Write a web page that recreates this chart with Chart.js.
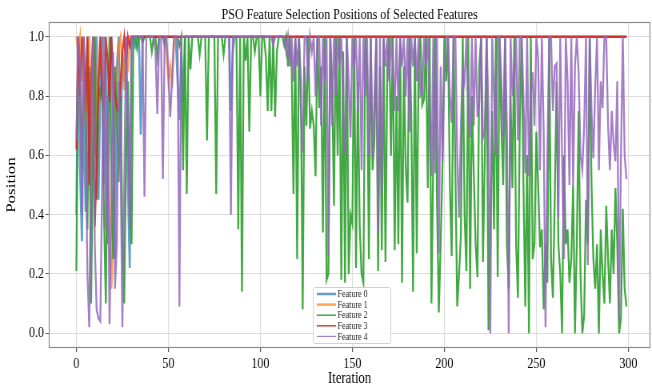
<!DOCTYPE html>
<html>
<head>
<meta charset="utf-8">
<script src="https://cdn.jsdelivr.net/npm/chart.js@4.4.1/dist/chart.umd.min.js"></script>
<style>
    html, body { margin: 0; padding: 0; background: #fff; overflow: hidden; }
</style>
</head>
<body>
<canvas id="PositionChart" width="815" height="388" style="display: block; width: 652px; height: 388px;"></canvas>
<script>
var chartTitle = 'PSO Feature Selection Positions of Selected Features';
var featureNames = ['Feature 0', 'Feature 1', 'Feature 2', 'Feature 3', 'Feature 4'];
var xTicks = [0, 50, 100, 150, 200, 250, 300];
var yTicks = [0, 0.2, 0.4, 0.6, 0.8, 1.0];

var feature0 = [
    0.4, 1, 0.55, 0.31, 0.8, 0.41, 1, 0.7, 0.35, 0.9,
    0.6, 1, 0.45, 0.8, 1, 0.5, 0.95, 0.3, 0.85, 1,
    0.65, 0.25, 0.9, 1, 0.6, 0.95, 0.85, 1, 0.5, 0.22,
    1, 1, 0.97, 1, 1, 0.67, 1, 1, 1, 1,
    1, 1, 1, 1, 1, 1, 1, 1, 1, 1,
    1, 1, 1, 1, 1, 0.85, 0.72, 0.95, 0.78, 1,
    1, 1, 1, 1, 1, 1, 1, 1, 1, 1,
    1, 1, 1, 1, 1, 1, 1, 1, 1, 1,
    1, 1, 1, 1, 0.75, 0.95, 1, 1, 1, 1,
    1, 1, 1, 1, 1, 1, 1, 1, 1, 1,
    1, 1, 1, 1, 1, 1, 1, 1, 1, 1,
    1, 1, 1, 1, 1, 1, 1, 1, 1, 1,
    1, 1, 1, 1, 1, 1, 1, 1, 1, 1,
    1, 1, 1, 1, 1, 1, 1, 1, 1, 1,
    1, 1, 1, 1, 1, 1, 1, 1, 1, 1,
    1, 1, 1, 1, 1, 1, 1, 1, 1, 1,
    1, 1, 1, 1, 1, 1, 1, 1, 1, 1,
    1, 1, 1, 1, 1, 1, 1, 1, 1, 1,
    1, 1, 1, 1, 1, 1, 1, 1, 1, 1,
    1, 1, 1, 1, 1, 1, 1, 1, 1, 1,
    1, 1, 1, 1, 1, 1, 1, 1, 1, 1,
    1, 1, 1, 1, 1, 1, 1, 1, 1, 1,
    1, 1, 1, 1, 1, 1, 1, 1, 1, 1,
    1, 1, 1, 1, 1, 1, 1, 1, 1, 1,
    1, 1, 1, 1, 1, 1, 1, 1, 1, 1,
    1, 1, 1, 1, 1, 1, 1, 1, 1, 1,
    1, 1, 1, 1, 1, 1, 1, 1, 1, 1,
    1, 1, 1, 1, 1, 1, 1, 1, 1, 1,
    1, 1, 1, 1, 1, 1, 1, 1, 1, 1,
    1, 1, 1, 1, 1, 1, 1, 1, 1, 1
];

var feature1 = [
    1, 0.95, 1, 0.85, 1, 0.7, 0.9, 1, 0.6, 0.8,
    1, 0.65, 0.85, 1, 0.9, 0.75, 0.7, 0.68, 0.4, 0.15,
    0.3, 0.72, 0.85, 0.97, 1, 0.9, 0.82, 1, 0.88, 1,
    1, 1, 1, 1, 1, 1, 1, 1, 1, 1,
    1, 1, 1, 1, 1, 1, 1, 1, 1, 0.95,
    0.85, 0.9, 0.83, 0.97, 1, 1, 1, 1, 1, 1,
    1, 1, 1, 1, 1, 1, 1, 1, 1, 1,
    1, 1, 1, 1, 1, 1, 1, 1, 1, 1,
    1, 1, 1, 1, 1, 1, 1, 1, 1, 1,
    1, 1, 1, 1, 1, 1, 1, 1, 1, 1,
    1, 1, 1, 1, 1, 1, 1, 1, 1, 1,
    1, 1, 1, 1, 1, 1, 1, 1, 1, 1,
    1, 1, 1, 1, 1, 1, 1, 1, 1, 1,
    1, 1, 1, 1, 1, 1, 1, 1, 1, 1,
    1, 1, 1, 1, 1, 1, 1, 1, 1, 1,
    1, 1, 1, 1, 1, 1, 1, 1, 1, 1,
    1, 1, 1, 1, 1, 1, 1, 1, 1, 1,
    1, 1, 1, 1, 1, 1, 1, 1, 1, 1,
    1, 1, 1, 1, 1, 1, 1, 1, 1, 1,
    1, 1, 1, 1, 1, 1, 1, 1, 1, 1,
    1, 1, 1, 1, 1, 1, 1, 1, 1, 1,
    1, 1, 1, 1, 1, 1, 1, 1, 1, 1,
    1, 1, 1, 1, 1, 1, 1, 1, 1, 1,
    1, 1, 1, 1, 1, 1, 1, 1, 1, 1,
    1, 1, 1, 1, 1, 1, 1, 1, 1, 1,
    1, 1, 1, 1, 1, 1, 1, 1, 1, 1,
    1, 1, 1, 1, 1, 1, 1, 1, 1, 1,
    1, 1, 1, 1, 1, 1, 1, 1, 1, 1,
    1, 1, 1, 1, 1, 1, 1, 1, 1, 1,
    1, 1, 1, 1, 1, 1, 1, 1, 1, 1
];

var feature2 = [
    0.21, 1, 0.85, 0.55, 1, 0.8, 0.35, 0.9, 0.1, 0.6,
    1, 0.45, 0.84, 0.8, 0.85, 0.4, 0.1, 0.7, 1, 0.55,
    0.25, 0.9, 0.75, 0.51, 0.8, 0.35, 0.1, 0.6, 0.85, 0.45,
    0.3, 1, 1, 0.96, 1, 1, 0.98, 1, 1, 1,
    1, 0.95, 1, 1, 0.93, 1, 1, 1, 0.97, 1,
    1, 1, 1, 1, 1, 1, 0.97, 1, 0.55, 1,
    0.47, 1, 0.89, 1, 1, 1, 1, 0.94, 1, 1,
    1, 0.65, 1, 1, 1, 1, 0.47, 1, 1, 1,
    0.94, 1, 1, 1, 1, 1, 1, 1, 0.35, 1,
    0.14, 1, 0.92, 1, 0.68, 1, 1, 0.95, 1, 1,
    0.8, 1, 1, 0.93, 0.75, 1, 0.75, 1, 0.73, 0.95,
    1, 1, 1, 0.97, 1, 0.9, 1, 0.9, 0.47, 1,
    0.25, 1, 0.85, 0.08, 0.9, 0.7, 1, 0.69, 0.75, 0.7,
    0.53, 1, 0.76, 0.9, 0.34, 1, 0.18, 0.2, 1, 0.85,
    0.43, 1, 0.6, 1, 0.18, 0.95, 0.17, 1, 0.2, 0.4,
    0.37, 1, 0.22, 0.85, 0.36, 0.2, 0.17, 1, 0.9, 0.25,
    1, 0.55, 0.65, 1, 0.21, 0.9, 0.28, 1, 0.24, 0.9,
    1, 0.6, 1, 0.28, 0.8, 0.3, 1, 0.17, 0.9, 0.56,
    0.44, 1, 0.75, 0.14, 1, 0.27, 0.9, 1, 0.77, 0.79,
    1, 0.49, 1, 0.1, 0.6, 1, 0.45, 0.07, 0.3, 0.57,
    1, 0.85, 1, 0.5, 0.26, 1, 0.55, 0.09, 0.2, 0.33,
    1, 0.4, 0.21, 1, 0.15, 0.8, 0.54, 0.3, 0.19, 0.9,
    1, 0.24, 0.6, 1, 0.01, 0.33, 0.75, 0.35, 1, 0.19,
    1, 0.7, 0.5, 1, 0.3, 0.15, 0.8, 0.49, 1, 0.3,
    0.12, 0.7, 1, 0.5, 0.09, 0.6, 0, 1, 0.25, 0.3,
    0.68, 0.5, 0.29, 0.35, 0.08, 0.3, 0.17, 1, 0.25, 0.12,
    0.45, 0.85, 0.3, 0.2, 0, 0.6, 0.3, 0.35, 0.17, 0.25,
    0.5, 0, 0.3, 0.75, 0.2, 0, 0.06, 0.45, 0.3, 1,
    0.5, 0.25, 0.15, 0.3, 0, 0.35, 0.2, 0.1, 0.43, 0.25,
    0.1, 0.35, 0.2, 0.49, 0.3, 0, 0.05, 0.42, 0.15, 0.09
];

var feature3 = [
    0.62, 1, 0.8, 1, 0.92, 0.75, 1, 0.5, 0.85, 1,
    0.36, 0.55, 0.82, 1, 0.8, 0.75, 1, 0.92, 0.78, 1,
    0.88, 0.8, 0.76, 0.75, 0.85, 0.95, 1, 0.9, 1, 0.97,
    1, 1, 1, 1, 1, 1, 1, 1, 1, 1,
    1, 1, 1, 1, 1, 1, 1, 1, 1, 1,
    1, 1, 1, 1, 1, 1, 1, 1, 1, 1,
    1, 1, 1, 1, 1, 1, 1, 1, 1, 1,
    1, 1, 1, 1, 1, 1, 1, 1, 1, 1,
    1, 1, 1, 1, 1, 1, 1, 1, 1, 1,
    1, 1, 1, 1, 1, 1, 1, 1, 1, 1,
    1, 1, 1, 1, 1, 1, 1, 1, 1, 1,
    1, 1, 1, 1, 1, 1, 1, 1, 1, 1,
    1, 1, 1, 1, 1, 1, 1, 1, 1, 1,
    1, 1, 1, 1, 1, 1, 1, 1, 1, 1,
    1, 1, 1, 1, 1, 1, 1, 1, 1, 1,
    1, 1, 1, 1, 1, 1, 1, 1, 1, 1,
    1, 1, 1, 1, 1, 1, 1, 1, 1, 1,
    1, 1, 1, 1, 1, 1, 1, 1, 1, 1,
    1, 1, 1, 1, 1, 1, 1, 1, 1, 1,
    1, 1, 1, 1, 1, 1, 1, 1, 1, 1,
    1, 1, 1, 1, 1, 1, 1, 1, 1, 1,
    1, 1, 1, 1, 1, 1, 1, 1, 1, 1,
    1, 1, 1, 1, 1, 1, 1, 1, 1, 1,
    1, 1, 1, 1, 1, 1, 1, 1, 1, 1,
    1, 1, 1, 1, 1, 1, 1, 1, 1, 1,
    1, 1, 1, 1, 1, 1, 1, 1, 1, 1,
    1, 1, 1, 1, 1, 1, 1, 1, 1, 1,
    1, 1, 1, 1, 1, 1, 1, 1, 1, 1,
    1, 1, 1, 1, 1, 1, 1, 1, 1, 1,
    1, 1, 1, 1, 1, 1, 1, 1, 1, 1
];

var feature4 = [
    0.65, 1, 0.9, 0.4, 1, 0.7, 0.2, 0.02, 0.6, 1,
    0.3, 0.08, 0.05, 0.04, 0.5, 1, 0.35, 0.8, 0.03, 0.4,
    0.95, 0.15, 0.3, 0.85, 0.6, 0.02, 0.5, 1, 0.7, 0.35,
    1, 1, 1, 1, 1, 1, 1, 0.46, 1, 1,
    1, 1, 1, 0.95, 0.74, 1, 1, 0.52, 1, 1,
    0.88, 0.73, 0.85, 1, 1, 1, 0.09, 1, 1, 1,
    1, 1, 1, 1, 1, 1, 1, 1, 1, 1,
    1, 1, 1, 1, 1, 1, 1, 1, 1, 1,
    1, 1, 1, 1, 0.4, 1, 1, 1, 1, 1,
    1, 1, 1, 1, 1, 1, 1, 1, 1, 1,
    1, 1, 1, 1, 1, 1, 1, 0.97, 1, 1,
    1, 1, 1, 1, 0.95, 1, 0.9, 1, 0.85, 1,
    0.9, 1, 0.75, 0.61, 1, 1, 0.85, 1, 0.95, 1,
    0.8, 1, 1, 0.7, 1, 0.85, 1, 0.26, 1, 0.7,
    1, 0.8, 1, 0.9, 1, 0.75, 0.6, 1, 0.85, 0.66,
    1, 0.9, 1, 0.75, 1, 0.55, 1, 0.8, 1, 0.6,
    1, 0.59, 0.8, 1, 0.34, 1, 0.47, 1, 0.9, 1,
    0.85, 1, 0.9, 0.75, 1, 0.75, 1, 0.9, 1, 0.8,
    1, 0.68, 1, 0.9, 1, 0.85, 1, 0.8, 0.81, 1,
    0.9, 1, 0.75, 0.53, 1, 0.54, 1, 0.27, 0.9, 0.58,
    0.88, 1, 1, 0.8, 0.71, 1, 1, 0.6, 0.39, 0.7,
    0.9, 0.85, 1, 0.75, 0.66, 1, 0.7, 1, 0.73, 0.78,
    1, 0.66, 0.68, 1, 0.75, 0, 1, 0.8, 0.6, 1,
    1, 0.85, 0.66, 1, 0.7, 0, 1, 0.8, 0.85, 1,
    0.65, 1, 1, 0.8, 0.54, 1, 0.53, 0.8, 0.88, 0.7,
    1, 0.93, 0.55, 1, 0.68, 0.02, 0.6, 1, 1, 0.75,
    0.9, 0.91, 0.39, 1, 0.6, 0.25, 1, 0.85, 0.5, 1,
    0.5, 0.9, 1, 0.88, 0.6, 0.55, 0.7, 1, 0.23, 1,
    0.75, 0.59, 0.83, 1, 0.55, 0.85, 0.76, 1, 1, 0.7,
    0.55, 0.75, 0.64, 0.58, 0.85, 0.04, 0.6, 1, 0.6, 0.52
];

var seriesList = [feature0, feature1, feature2, feature3, feature4];
var lineColors = [
    'rgba(31, 119, 180, 0.7)',
    'rgba(255, 127, 14, 0.7)',
    'rgba(44, 160, 44, 0.9)',
    'rgba(214, 39, 40, 0.9)',
    'rgba(148, 103, 189, 0.85)'
];
var lineWidths = [2.6, 2.6, 2.3, 2.3, 2.3];
var legendWidths = [2.5, 2.5, 1.5, 1.5, 1.2];

var serif = '"Liberation Serif", "Times New Roman", serif';

// frame around the plot, title over the plot area, legend box inside the plot
var decorations = {
    id: 'decorations',
    afterDraw: function(chart) {
        var ctx = chart.ctx;
        var a = chart.chartArea;
        ctx.save();
        ctx.strokeStyle = '#8c8c8c';
        ctx.lineWidth = 1.2;
        ctx.strokeRect(a.left + 0.5, a.top + 0.5, a.right - a.left - 1, a.bottom - a.top - 1);

        ctx.fillStyle = '#000';
        ctx.font = '15px ' + serif;
        ctx.textAlign = 'center';
        ctx.textBaseline = 'middle';
        ctx.fillText(chartTitle, (a.left + a.right) / 2, 15);

        // legend
        var bx = 391, by = 287, bw = 97, bh = 56;
        ctx.fillStyle = 'rgba(255, 255, 255, 0.85)';
        ctx.strokeStyle = '#d0d0d0';
        ctx.lineWidth = 1;
        ctx.beginPath();
        ctx.roundRect(bx + 0.5, by + 0.5, bw, bh, 2);
        ctx.fill();
        ctx.stroke();
        ctx.font = '10px ' + serif;
        ctx.textAlign = 'left';
        for (var k = 0; k < featureNames.length; k++) {
            var y = by + 7 + k * 10.6;
            ctx.strokeStyle = lineColors[k];
            ctx.lineWidth = legendWidths[k];
            ctx.beginPath();
            ctx.moveTo(bx + 5, y);
            ctx.lineTo(bx + 29, y);
            ctx.stroke();
            ctx.fillStyle = '#222';
            ctx.fillText(featureNames[k], bx + 31, y + 0.5);
        }
        ctx.restore();
    }
};

function showPositionChart() {
    var ctx = document.getElementById('PositionChart').getContext('2d');
    var iterations = feature0.map(function(v, i) { return i; });

    var datasets = seriesList.map(function(values, k) {
        return {
            label: featureNames[k],
            data: values.map(function(v, i) { return { x: iterations[i], y: v }; }),
            borderColor: lineColors[k],
            borderWidth: lineWidths[k],
            pointRadius: 0,
            fill: false,
            tension: 0,
            order: 4 - k
        };
    });

    var positionChart = new Chart(ctx, {
        type: 'line',
        data: { datasets: datasets },
        options: {
            responsive: false,
            animation: false,
            devicePixelRatio: 1,
            layout: { padding: { top: 22, right: 2, left: 0, bottom: 0 } },
            plugins: {
                legend: { display: false },
                title: { display: false },
                tooltip: { enabled: false }
            },
            scales: {
                x: {
                    type: 'linear',
                    min: -15,
                    max: 312,
                    afterBuildTicks: function(scale) {
                        scale.ticks = xTicks.map(function(v) { return { value: v }; });
                    },
                    afterFit: function(scale) { scale.height = 40; },
                    ticks: {
                        color: '#000',
                        font: { family: serif, size: 15 },
                        padding: 3,
                        maxRotation: 0,
                        callback: function(v) { return String(v); }
                    },
                    grid: { color: '#dcdcdc', lineWidth: 1.2, tickColor: '#555', tickLength: 4 },
                    border: { display: false },
                    title: {
                        display: true,
                        text: 'Iteration',
                        color: '#000',
                        font: { family: serif, size: 16 },
                        padding: { top: 0, bottom: 0 }
                    }
                },
                y: {
                    type: 'linear',
                    min: -0.05,
                    max: 1.05,
                    afterBuildTicks: function(scale) {
                        scale.ticks = yTicks.map(function(v) { return { value: v }; });
                    },
                    afterFit: function(scale) { scale.width = 61; },
                    ticks: {
                        color: '#000',
                        font: { family: serif, size: 15 },
                        padding: 2,
                        callback: function(v) { return Number(v).toFixed(1); }
                    },
                    grid: { color: '#dcdcdc', lineWidth: 1, tickColor: '#555', tickLength: 4 },
                    border: { display: false },
                    title: {
                        display: true,
                        text: 'Position',
                        color: '#000',
                        font: { family: serif, size: 17 },
                        padding: { top: 4, bottom: 0 }
                    }
                }
            }
        },
        plugins: [decorations]
    });
}

showPositionChart();
</script>
</body>
</html>
